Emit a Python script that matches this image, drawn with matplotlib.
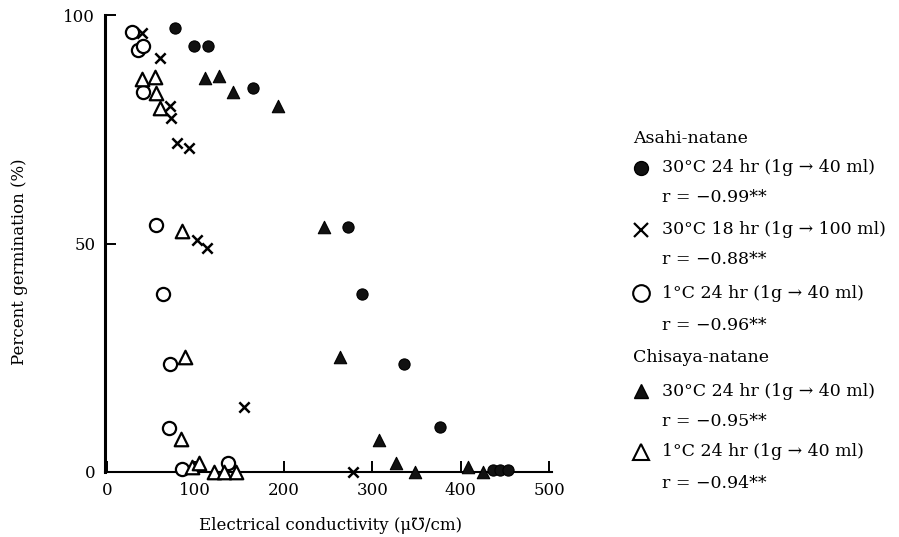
import matplotlib
matplotlib.use("Agg")
import matplotlib.pyplot as plt
from matplotlib.lines import Line2D

plt.rcParams['font.family'] = ['DejaVu Serif', 'DejaVu Sans']

# --- data (conductivity uS/cm, germination %) ---
asahi_30_24_x = [77, 98, 114, 165, 273, 288, 336, 376, 436, 444, 453]
asahi_30_24_y = [97.2, 93.2, 93.2, 84, 53.6, 39, 23.6, 9.8, 0.5, 0.5, 0.5]

asahi_30_18_x = [40, 60, 71, 73, 79, 93, 102, 113, 155, 278]
asahi_30_18_y = [96, 90.5, 80, 77.5, 72, 71, 50.8, 49, 14.2, 0]

asahi_1_24_x = [29, 35, 41, 41, 56, 63, 71, 70, 85, 137]
asahi_1_24_y = [96.3, 92.3, 93.2, 83.2, 54, 39, 23.6, 9.6, 0.7, 2]

chisaya_30_24_x = [111, 127, 143, 194, 245, 263, 308, 327, 348, 408, 425]
chisaya_30_24_y = [86.2, 86.7, 83.2, 80, 53.6, 25.2, 7, 2, 0, 1, 0]

chisaya_1_24_x = [40, 54, 56, 60, 85, 88, 84, 96, 104, 121, 133, 146]
chisaya_1_24_y = [86, 86.4, 83, 79.6, 52.7, 25.1, 7.2, 1, 2, 0, 0, 0]

x_ticks = [0, 100, 200, 300, 400, 500]
y_ticks = [0, 50, 100]

legend_rows = [
    ("Asahi-natane", None),
    ("30°C 24 hr (1g → 40 ml)", "fcircle"),
    ("r = −0.99**", ""),
    ("30°C 18 hr (1g → 100 ml)", "cross"),
    ("r = −0.88**", ""),
    ("1°C 24 hr (1g → 40 ml)", "ocircle"),
    ("r = −0.96**", ""),
    ("Chisaya-natane", None),
    ("30°C 24 hr (1g → 40 ml)", "ftri"),
    ("r = −0.95**", ""),
    ("1°C 24 hr (1g → 40 ml)", "otri"),
    ("r = −0.94**", ""),
]

W, H = 899, 537
fig = plt.figure(figsize=(W / 100, H / 100), dpi=100)
ax = fig.add_axes([105 / W, 1 - 472 / H, 447 / W, 457 / H])
ax.set_xlim(-2, 503)
ax.set_ylim(0, 100)

ax.scatter(asahi_30_24_x, asahi_30_24_y, marker='o', s=65, c='#111111',
           edgecolors='black', linewidths=0.8, zorder=3, clip_on=False)
ax.scatter(asahi_30_18_x, asahi_30_18_y, marker='x', s=55, c='black',
           linewidths=1.8, zorder=3, clip_on=False)
ax.scatter(asahi_1_24_x, asahi_1_24_y, marker='o', s=90, facecolors='white',
           edgecolors='black', linewidths=1.6, zorder=3, clip_on=False)
ax.scatter(chisaya_30_24_x, chisaya_30_24_y, marker='^', s=80, c='#111111',
           edgecolors='black', linewidths=0.8, zorder=3, clip_on=False)
ax.scatter(chisaya_1_24_x, chisaya_1_24_y, marker='^', s=95, facecolors='white',
           edgecolors='black', linewidths=1.6, zorder=3, clip_on=False)

for s in ['top', 'right']:
    ax.spines[s].set_visible(False)
ax.spines['left'].set_linewidth(2.2)
ax.spines['bottom'].set_linewidth(1.5)
ax.set_xticks(x_ticks)
ax.set_yticks(y_ticks)
ax.tick_params(direction='in', length=8, width=1.4, labelsize=12, pad=7)

fig.text(20 / W, 1 - 262 / H, "Percent germination (%)", rotation=90,
         ha='center', va='center', fontsize=12)
fig.text(331 / W, 1 - 525 / H, "Electrical conductivity (μ℧/cm)",
         ha='center', va='center', fontsize=12)

# --- legend, drawn by hand ---
row_y = [138, 168, 198, 230, 260, 293, 325, 358, 391, 421, 452, 483]
styles = {
    "fcircle": dict(marker='o', markersize=10, markerfacecolor='#111111',
                    markeredgecolor='black'),
    "cross": dict(marker='x', markersize=10, markeredgewidth=1.6, color='black'),
    "ocircle": dict(marker='o', markersize=12, markerfacecolor='white',
                    markeredgecolor='black', markeredgewidth=1.5),
    "ftri": dict(marker='^', markersize=10, markerfacecolor='#111111',
                 markeredgecolor='black'),
    "otri": dict(marker='^', markersize=12, markerfacecolor='white',
                 markeredgecolor='black', markeredgewidth=1.5),
}
for (label, kind), py in zip(legend_rows, row_y):
    yf = 1 - py / H
    if kind is None:
        fig.text(633 / W, yf, label, ha='left', va='center', fontsize=12.5)
    else:
        fig.text(662 / W, yf, label, ha='left', va='center', fontsize=12.5)
        if kind:
            fig.add_artist(Line2D([641 / W], [yf], transform=fig.transFigure,
                                  linestyle='none', **styles[kind]))

fig.savefig("out.png", dpi=100)
